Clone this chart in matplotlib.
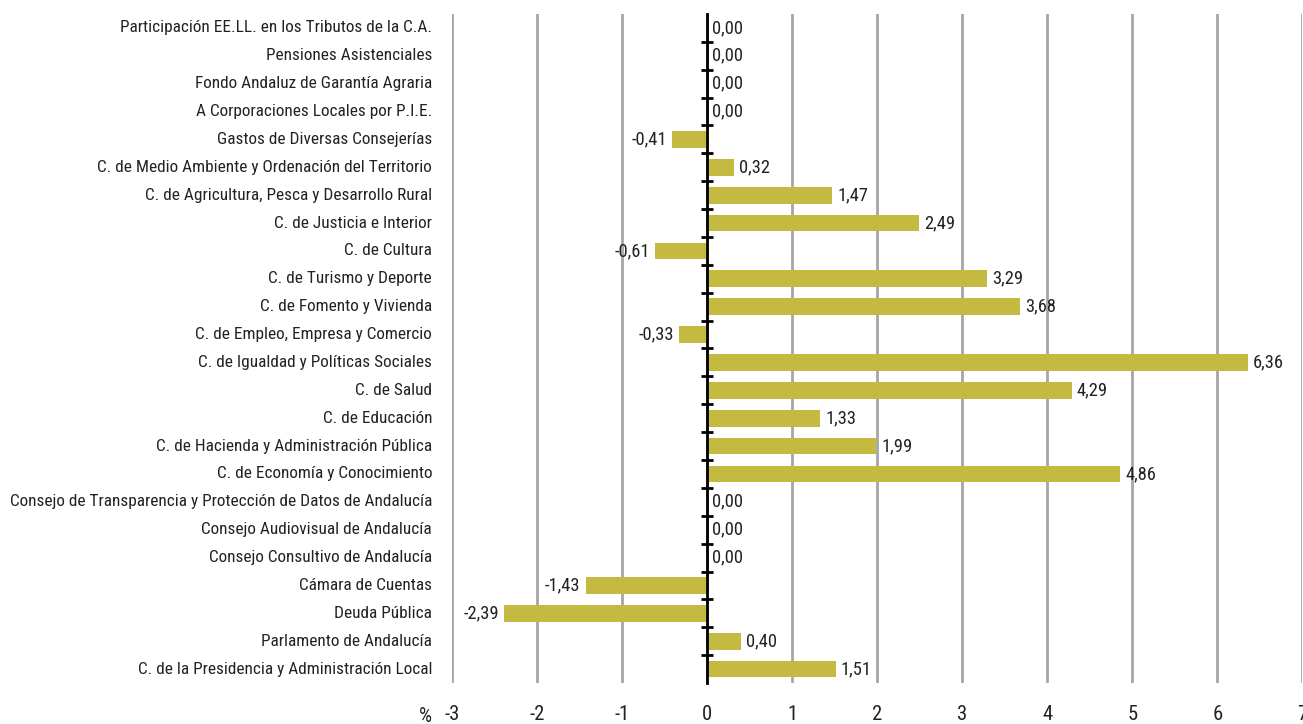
import matplotlib
matplotlib.use("Agg")
import matplotlib.pyplot as plt
import matplotlib.transforms as mtransforms
from matplotlib import font_manager

categories = [
    "Participación EE.LL. en los Tributos de la C.A.",
    "Pensiones Asistenciales",
    "Fondo Andaluz de Garantía Agraria",
    "A Corporaciones Locales por P.I.E.",
    "Gastos de Diversas Consejerías",
    "C. de Medio Ambiente y Ordenación del Territorio",
    "C. de Agricultura, Pesca y Desarrollo Rural",
    "C. de Justicia e Interior",
    "C. de Cultura",
    "C. de Turismo y Deporte",
    "C. de Fomento y Vivienda",
    "C. de Empleo, Empresa y Comercio",
    "C. de Igualdad y Políticas Sociales",
    "C. de Salud",
    "C. de Educación",
    "C. de Hacienda y Administración Pública",
    "C. de Economía y Conocimiento",
    "Consejo de Transparencia y Protección de Datos de Andalucía",
    "Consejo Audiovisual de Andalucía",
    "Consejo Consultivo de Andalucía",
    "Cámara de Cuentas",
    "Deuda Pública",
    "Parlamento de Andalucía",
    "C. de la Presidencia y Administración Local",
]
values = [0.00, 0.00, 0.00, 0.00, -0.41, 0.32, 1.47, 2.49, -0.61, 3.29, 3.68,
          -0.33, 6.36, 4.29, 1.33, 1.99, 4.86, 0.00, 0.00, 0.00, -1.43, -2.39,
          0.40, 1.51]
xticks = [-3, -2, -1, 0, 1, 2, 3, 4, 5, 6, 7]

available = {f.name for f in font_manager.fontManager.ttflist}
fam = "Roboto"
for cand in ["Roboto Condensed", "Liberation Sans Narrow", "Open Sans Condensed",
             "DejaVu Sans Condensed", "Roboto"]:
    if cand in available:
        fam = cand
        break
plt.rcParams['font.family'] = [fam, 'DejaVu Sans']

fig = plt.figure(figsize=(13.03, 7.24), dpi=100)
ax = fig.add_axes([452/1303, 1-683/724, 1-452/1303-0.0005, (683-14)/724])

# fit font size so the longest category label spans ~422 px
renderer = fig.canvas.get_renderer()
longest = max(categories, key=len)
tmp = fig.text(0, 0, longest, fontsize=12)
w = tmp.get_window_extent(renderer).width
tmp.remove()
fs = min(12.5, 12 * 420 / w)
tfs = fs * 1.08

n = len(categories)
ypos = list(range(n))
bar_color = "#C4BA42"
ax.barh(ypos, values, height=0.6, color=bar_color, zorder=3)
ax.set_ylim(n - 0.5, -0.5)
ax.set_xlim(-3, 7)

ax.set_xticks(xticks)
ax.xaxis.grid(True, color="#A6A6A6", linewidth=2, zorder=0)
ax.set_xticklabels([str(t) for t in xticks], fontsize=tfs + 1.5, color="#222222")
ax.tick_params(axis='x', length=0, pad=16)

for s in ['top', 'right', 'bottom']:
    ax.spines[s].set_visible(False)
ax.spines['left'].set_position(('data', 0))
ax.spines['left'].set_linewidth(2)
ax.spines['left'].set_zorder(4)
ax.set_yticks([i + 0.5 for i in range(n - 1)])
ax.set_yticklabels([])
ax.tick_params(axis='y', direction='inout', length=9, width=2, color='black')

trans = mtransforms.blended_transform_factory(ax.transAxes, ax.transData)
for i, c in enumerate(categories):
    ax.text(-20/851, i, c, transform=trans, ha='right', va='center',
            fontsize=fs, color="#222222")

off = mtransforms.offset_copy
for i, v in enumerate(values):
    lab = f"{v:.2f}".replace(".", ",")
    if v < 0:
        t = off(ax.transData, fig=fig, x=-5, y=0, units='dots')
        ax.text(v, i, lab, transform=t, ha='right', va='center', fontsize=tfs, color="#222222")
    else:
        t = off(ax.transData, fig=fig, x=5, y=0, units='dots')
        ax.text(v, i, lab, transform=t, ha='left', va='center', fontsize=tfs, color="#222222")

fig.text(432/1303, 1 - 716/724, "%", ha='right', va='center',
         fontsize=tfs + 1.5, color="#222222")

fig.savefig("out.png", dpi=100)
